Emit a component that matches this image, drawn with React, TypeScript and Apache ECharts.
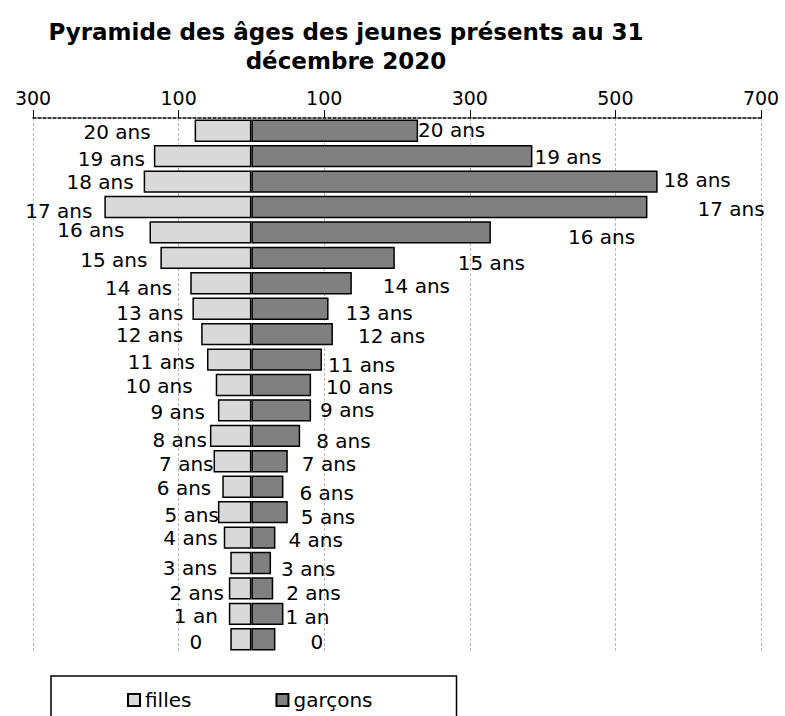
import React, { useEffect, useRef } from "react";
import * as echarts from "echarts";

const TITLE_LINE_1 = "Pyramide des âges des jeunes présents au 31";
const TITLE_LINE_2 = "décembre 2020";

// ordered bottom (0) to top (20 ans)
const categories = [
  "0", "1 an", "2 ans", "3 ans", "4 ans", "5 ans", "6 ans", "7 ans", "8 ans", "9 ans", "10 ans",
  "11 ans", "12 ans", "13 ans", "14 ans", "15 ans", "16 ans", "17 ans", "18 ans", "19 ans", "20 ans",
];
const filles = [29, 31, 31, 29, 38, 46, 40, 52, 57, 46, 49, 61, 69, 81, 84, 125, 140, 202, 148, 134, 78];
const garcons = [33, 44, 30, 27, 33, 50, 44, 50, 67, 82, 82, 97, 112, 106, 138, 197, 329, 544, 558, 386, 229];

const tickValues = [-300, -100, 100, 300, 500, 700];
const seriesNames = ["filles", "garçons"];

// label placement (style only)
const fillesLabelGap = [28, 11, 5, 13, 6, -1, 11, 0, 3, 13, 23, 12, 18, 9, 18, 13, 25, 12, 10, 9, 44];
const fillesLabelDy = [3, 2, 5, 5, 0, 3, 1, 3, 4, 2, 1, 2, 1, 4, 5, 2, -2, 4, 0, 3, 1];
const garconsLabelGap = [35, 2, 13, 10, 13, 13, 16, 14, 16, 9, 15, 6, 25, 17, 31, 63, 77, 50, 6, 2, 0];
const garconsLabelDy = [3, 3, 5, 6, 2, 5, 6, 3, 5, 0, 2, 5, 2, 4, 3, 5, 5, 2, -2, 1, -1];

const FONT = "DejaVu Sans";

export default function App() {
  const ref = useRef<HTMLDivElement>(null);

  useEffect(() => {
    document.body.style.margin = "0";
    if (!ref.current) return;
    const chart = echarts.init(ref.current, null, { renderer: "svg" });

    const labelStyle = { color: "#000", fontFamily: FONT, fontSize: 20 };

    const titleStyle = {
      textAlign: "center",
      textVerticalAlign: "middle",
      fontFamily: FONT,
      fontWeight: "bold",
      fontSize: 23,
      fill: "#000",
    };

    const option: any = {
      animation: false,
      backgroundColor: "#fff",
      graphic: [
        { type: "text", x: 346, y: 32, style: { text: TITLE_LINE_1, ...titleStyle } },
        { type: "text", x: 346, y: 61, style: { text: TITLE_LINE_2, ...titleStyle } },
      ],
      legend: {
        data: seriesNames,
        left: 51,
        top: 676,
        orient: "horizontal",
        icon: "rect",
        itemWidth: 12,
        itemHeight: 12,
        itemGap: 84,
        padding: [14, 84, 40, 76],
        borderColor: "#000",
        borderWidth: 1.5,
        textStyle: { color: "#000", fontFamily: FONT, fontSize: 20, lineHeight: 20 },
      },
      grid: { left: 33, right: 24, top: 118, bottom: 64, containLabel: false },
      xAxis: {
        type: "value",
        position: "top",
        min: -300,
        max: 700,
        interval: 100,
        axisLine: { show: true, lineStyle: { color: "#000", width: 1.5, type: [3, 2] } },
        axisTick: {
          show: true,
          customValues: tickValues,
          length: 8,
          lineStyle: { color: "#000", width: 1 },
        },
        axisLabel: {
          customValues: tickValues,
          showMinLabel: true,
          showMaxLabel: true,
          margin: 11,
          color: "#000",
          fontFamily: FONT,
          fontSize: 19,
          formatter: (v: number) => String(Math.abs(v)),
        },
        splitLine: { show: true, lineStyle: { color: "#b8b8b8", width: 1, type: [3, 2] } },
      },
      yAxis: {
        type: "category",
        data: categories,
        show: false,
      },
      series: [
        {
          name: seriesNames[0],
          type: "bar",
          stack: "pyr",
          barCategoryGap: "12%",
          itemStyle: { color: "#d9d9d9", borderColor: "#000", borderWidth: 1.5 },
          label: { show: true, position: "left", distance: 0, formatter: "{b}", ...labelStyle },
          data: filles.map((v, i) => ({
            value: -v,
            label: { offset: [-fillesLabelGap[i], fillesLabelDy[i]] },
          })),
        },
        {
          name: seriesNames[1],
          type: "bar",
          stack: "pyr",
          barCategoryGap: "12%",
          itemStyle: { color: "#808080", borderColor: "#000", borderWidth: 1.5 },
          label: { show: true, position: "right", distance: 0, formatter: "{b}", ...labelStyle },
          data: garcons.map((v, i) => ({
            value: v,
            label: { offset: [garconsLabelGap[i], garconsLabelDy[i]] },
          })),
        },
      ],
    };

    chart.setOption(option);
    return () => chart.dispose();
  }, []);

  return <div ref={ref} style={{ width: 785, height: 716 }} />;
}
